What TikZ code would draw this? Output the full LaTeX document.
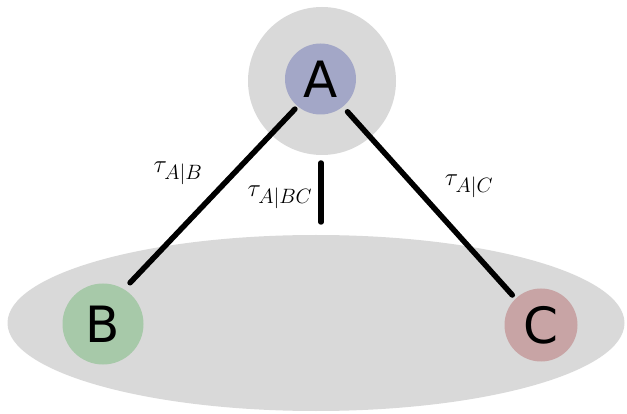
\documentclass[tikz,border=0pt]{standalone}
\usepackage{fontspec}
\usetikzlibrary{shapes.geometric}
\newfontfamily\lettfont{DejaVu Sans}
\definecolor{halo}{HTML}{D9D9D9}
\definecolor{acol}{HTML}{A3A7C7}
\definecolor{bcol}{HTML}{A7C9A9}
\definecolor{ccol}{HTML}{C8A4A5}
\begin{document}
\begin{tikzpicture}[x=1pt,y=-1pt,
  blob/.style={circle,inner sep=0pt,outer sep=0pt,font=\lettfont\fontsize{50}{50}\selectfont},
  edge/.style={line width=5.5pt,line cap=round},
  lab/.style={inner sep=0pt,font=\fontsize{28}{28}\selectfont}]
\useasboundingbox (0,0) rectangle (627,414);
\node[ellipse,fill=halo,minimum width=617pt,minimum height=176pt,inner sep=0pt] (E) at (316,323) {};
\node[circle,fill=halo,minimum size=148pt,inner sep=0pt] (H) at (322,81) {};
\node[blob,fill=acol,minimum size=71pt] (A) at (320.5,79) {A};
\node[blob,fill=bcol,minimum size=81pt] (B) at (103,324) {B};
\node[blob,fill=ccol,minimum size=73pt] (C) at (541,325) {C};
\coordinate (v1) at (321,163);
\coordinate (v2) at (321,222);
\draw[edge,shorten <=4pt,shorten >=9pt] (A.230) -- (B.59);
\draw[edge,shorten <=7pt,shorten >=5pt] (A.-51) -- (C.134);
\draw[edge] (v1) -- (v2);
\node[lab] (l1) at (178,173) {$\tau_{A|B}$};
\node[lab] (l2) at (280,197) {$\tau_{A|BC}$};
\node[lab] (l3) at (469,186) {$\tau_{A|C}$};
\end{tikzpicture}
\end{document}
